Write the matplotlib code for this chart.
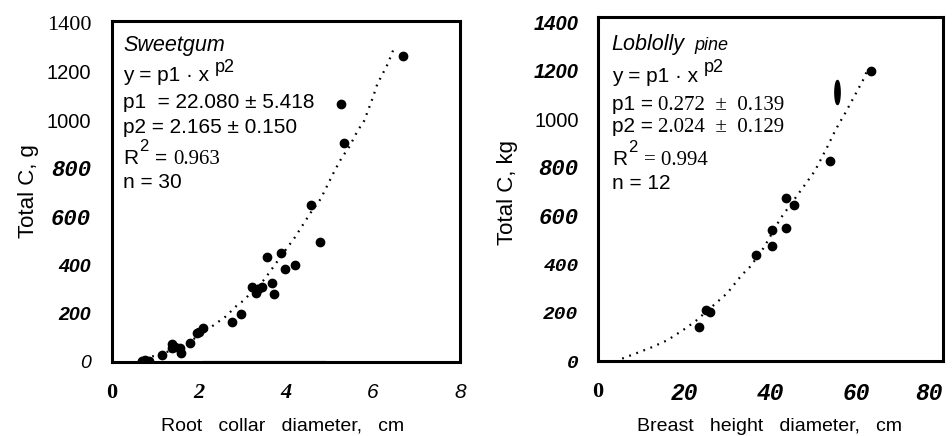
import numpy as np
import matplotlib
matplotlib.use("Agg")
import matplotlib.pyplot as plt
from matplotlib.path import Path
from matplotlib.transforms import offset_copy

SANS = "Liberation Sans"
SERIF = "Liberation Serif"
MONO = "Liberation Mono"

# Sweetgum: root collar diameter (cm) vs total C (g)
sg_x = [0.69, 0.84, 0.75, 1.15, 1.38, 1.38, 1.45, 1.57, 1.59, 1.79, 1.96, 2.00,
        2.09, 2.75, 2.96, 3.23, 3.32, 3.35, 3.46, 3.56, 3.67, 3.73, 3.89, 3.99,
        4.22, 4.57, 4.79, 5.26, 5.34, 6.70]
sg_y = [5, 5, 6, 29, 73, 56, 62, 56, 36, 80, 118, 125,
        141, 166, 197, 310, 283, 300, 310, 435, 327, 279, 449, 383,
        401, 648, 495, 1065, 905, 1264]
# dotted fit line
sg_fit_x = [0.60, 0.92, 1.60, 2.34, 2.61, 2.86, 3.02, 3.50, 4.07, 4.17, 4.57,
            4.80, 4.97, 5.13, 5.28, 5.46, 5.65, 5.80, 6.00, 6.10, 6.34, 6.48]
sg_fit_y = [0, 22, 60, 152, 187, 231, 253, 340, 482, 505, 617,
            674, 736, 794, 843, 890, 956, 997, 1093, 1148, 1231, 1295]
sg_base_x = [2.1, 4.9]
sg_base_y = [3, 3]

# Loblolly pine: breast height diameter (cm) vs total C (kg)
lp_x = [23.4, 25.0, 26.0, 36.7, 40.4, 40.4, 43.5, 43.7, 45.4, 53.8, 63.2]
lp_y = [141, 212, 203, 440, 543, 474, 674, 548, 644, 828, 1200]
lp_odd_x = [55.5]
lp_odd_y = [1110]
lp_fit_x = [5.6, 12.1, 16.1, 19.9, 22.7, 30.0, 33.3, 35.4, 38.5, 42.3,
            47.8, 50.3, 53.2, 54.7, 55.9, 57.0, 61.4, 62.3]
lp_fit_y = [10, 54, 86, 130, 166, 281, 355, 392, 470, 589,
            724, 786, 886, 941, 982, 1014, 1159, 1196]

sg_xticks = [0, 2, 4, 6, 8]
sg_yticks = [0, 200, 400, 600, 800, 1000, 1200, 1400]
lp_xticks = [0, 20, 40, 60, 80]
lp_yticks = [0, 200, 400, 600, 800, 1000, 1200, 1400]


def write_line(ax, x, y, parts):
    # puts pieces of text with different fonts on one baseline
    r = ax.figure.canvas.get_renderer()
    dx = 0.0
    for s, kw in parts:
        kw = dict(kw)
        rise = kw.pop("rise", 0)
        dx += kw.pop("pad", 0)
        tr = offset_copy(ax.transAxes, fig=ax.figure, x=dx, y=rise, units="points")
        t = ax.text(x, y, s, transform=tr, va="baseline", ha="left", **kw)
        dx += t.get_window_extent(r).width * 72 / ax.figure.dpi


def style_axes(ax):
    for sp in ax.spines.values():
        sp.set_linewidth(2.2)
    ax.tick_params(which="major", length=0)
    ax.tick_params(which="minor", length=9, width=1.2, direction="inout")


def set_labels(labels, styles):
    for lab, st in zip(labels, styles):
        lab.set_fontfamily(st[0])
        lab.set_fontsize(st[1])
        lab.set_fontstyle(st[2])
        lab.set_fontweight(st[3])


fig = plt.figure(figsize=(9.53, 4.36), dpi=100)
ax1 = fig.add_axes([0.1175, 0.170, 0.365, 0.782])
ax2 = fig.add_axes([0.6275, 0.172, 0.362, 0.789])
fig.canvas.draw()

# ---- Sweetgum ----
ax1.plot(sg_base_x, sg_base_y, color="0.65", lw=1.0)
ax1.plot(sg_fit_x, sg_fit_y, color="black", lw=1.6, linestyle=(0, (0.8, 2.6)))
ax1.scatter(sg_x, sg_y, s=36, color="black", zorder=3)
ax1.set_xlim(0, 8)
ax1.set_ylim(0, 1410)
style_axes(ax1)
ax1.set_xticks(sg_xticks, labels=[str(v) for v in sg_xticks])
ax1.set_yticks(sg_yticks, labels=[str(v) for v in sg_yticks])
ax1.set_xticks([0, 8], minor=True)
ax1.set_yticks([0, 1400], minor=True)
ax1.tick_params(axis="x", which="major", pad=15)
ax1.tick_params(axis="y", which="major", pad=15)
set_labels(ax1.get_xticklabels(), [
    (SERIF, 16, "normal", "bold"), (SERIF, 16, "italic", "bold"),
    (SERIF, 16, "italic", "bold"), (SANS, 15, "italic", "normal"),
    (SANS, 15, "italic", "normal")])
set_labels(ax1.get_yticklabels(), [
    (SANS, 14, "italic", "normal"), (SANS, 14, "italic", "bold"),
    (SANS, 14, "italic", "bold"), (MONO, 16, "italic", "bold"),
    (MONO, 16, "italic", "bold"), (SANS, 14.5, "normal", "normal"),
    (SANS, 14.5, "normal", "normal"), (SERIF, 16, "normal", "normal")])
ax1.set_ylabel("Total C, g", family=SANS, fontsize=16)
ax1.yaxis.label.set_va("center")
ax1.yaxis.set_label_coords(-0.241, 0.5)
ax1.set_xlabel("Root   collar   diameter,   cm", family=SANS, fontsize=14)
ax1.xaxis.set_label_coords(0.491, -0.188)
ax1.xaxis.label.set_va("center")

sans = dict(family=SANS, fontsize=15)
sup = dict(family=SANS, fontsize=13, rise=7, pad=4)
write_line(ax1, 0.032, 0.912, [("Sweetgum", dict(family=SANS, fontsize=15.5, style="italic"))])
write_line(ax1, 0.032, 0.823, [("y = p1 · x", sans), ("p2", sup)])
write_line(ax1, 0.032, 0.745, [("p1  = 22.080 ± 5.418", sans)])
write_line(ax1, 0.032, 0.672, [("p2 = 2.165 ± 0.150", sans)])
write_line(ax1, 0.032, 0.581, [("R", sans),
                               ("2", dict(family=SANS, fontsize=12, rise=9, pad=0.5)),
                               ("=", dict(family=SANS, fontsize=15, pad=5)),
                               ("0.963", dict(family=SERIF, fontsize=15, pad=4))])
write_line(ax1, 0.032, 0.510, [("n = 30", sans)])

# ---- Loblolly pine ----
ellipse = np.column_stack([0.22 * np.cos(np.linspace(0, 2 * np.pi, 40)),
                           np.sin(np.linspace(0, 2 * np.pi, 40))])
ax2.plot(lp_fit_x, lp_fit_y, color="black", lw=1.6, linestyle=(0, (0.8, 2.6)))
ax2.scatter(lp_x, lp_y, s=36, color="black", zorder=3)
ax2.scatter(lp_odd_x, lp_odd_y, s=300, marker=Path(ellipse), color="black", zorder=3)
ax2.set_xlim(0, 80)
ax2.set_ylim(0, 1422)
style_axes(ax2)
ax2.set_xticks(lp_xticks, labels=[str(v) for v in lp_xticks])
ax2.set_yticks(lp_yticks, labels=[str(v) for v in lp_yticks])
ax2.set_xticks([0, 80], minor=True)
ax2.set_yticks([0], minor=True)
ax2.tick_params(axis="x", which="major", pad=15)
ax2.tick_params(axis="y", which="major", pad=14)
set_labels(ax2.get_xticklabels(), [
    (SERIF, 16, "normal", "bold"), (MONO, 16.5, "italic", "bold"),
    (MONO, 16.5, "italic", "bold"), (MONO, 16.5, "italic", "bold"),
    (MONO, 16.5, "italic", "bold")])
ax2.get_xticklabels()[-1].set_ha("right")
set_labels(ax2.get_yticklabels(), [
    (MONO, 14, "italic", "bold"), (MONO, 14, "italic", "bold"),
    (MONO, 14, "italic", "bold"), (MONO, 16, "italic", "bold"),
    (MONO, 16, "italic", "bold"), (SANS, 14.5, "normal", "normal"),
    (SANS, 14.5, "italic", "bold"), (SANS, 14.5, "italic", "bold")])
ax2.set_ylabel("Total C, kg", family=SANS, fontsize=16)
ax2.yaxis.label.set_va("center")
ax2.yaxis.set_label_coords(-0.261, 0.49)
ax2.set_xlabel("Breast   height   diameter,   cm", family=SANS, fontsize=14)
ax2.xaxis.set_label_coords(0.497, -0.19)
ax2.xaxis.label.set_va("center")

write_line(ax2, 0.040, 0.904, [("Loblolly", dict(family=SANS, fontsize=15.5, style="italic")),
                               ("pine", dict(family=SANS, fontsize=13, style="italic", pad=7))])
write_line(ax2, 0.040, 0.812, [("y = p1 · x", sans), ("p2", sup)])
write_line(ax2, 0.040, 0.730, [("p1 =", sans),
                               ("0.272  ±  0.139", dict(family=SERIF, fontsize=15, pad=4))])
write_line(ax2, 0.040, 0.666, [("p2 =", sans),
                               ("2.024  ±  0.129", dict(family=SERIF, fontsize=15, pad=4))])
write_line(ax2, 0.040, 0.570, [("R", sans),
                               ("2", dict(family=SANS, fontsize=12, rise=9, pad=0.5)),
                               ("= 0.994", dict(family=SERIF, fontsize=15, pad=5))])
write_line(ax2, 0.040, 0.500, [("n = 12", sans)])

fig.savefig("out.png", dpi=100)
